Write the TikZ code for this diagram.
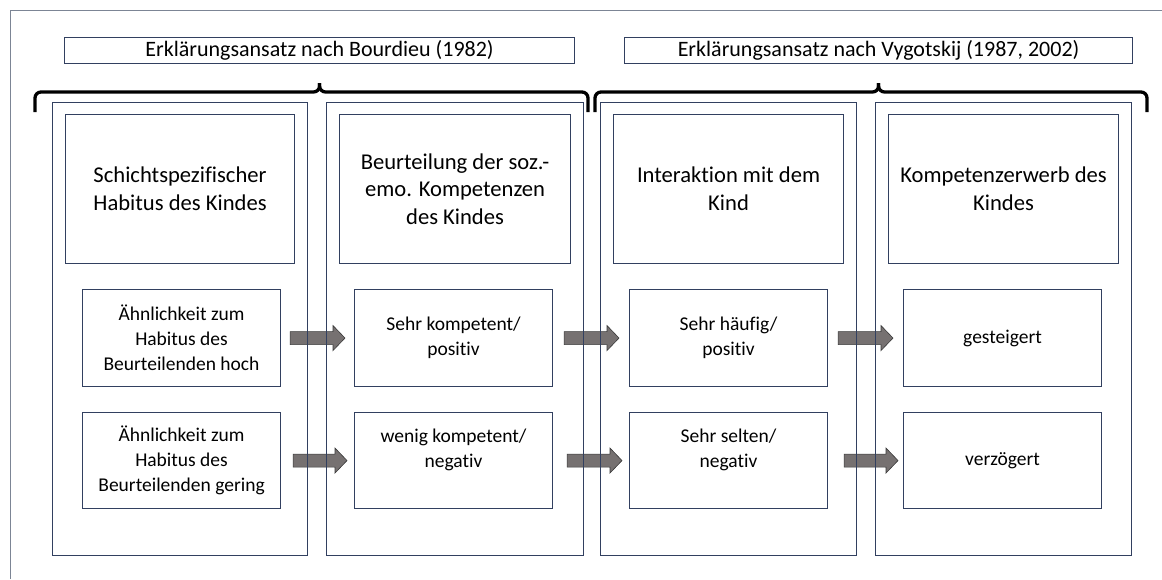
\documentclass[tikz,border=0pt]{standalone}
\usepackage{fontspec}
\setmainfont{Carlito}[Ligatures=NoCommon]
\usetikzlibrary{calc}
\definecolor{navy}{HTML}{324060}
\definecolor{arrowgray}{HTML}{767171}
\definecolor{arrowedge}{HTML}{3A3A3A}
\definecolor{framegray}{HTML}{7C8595}
\pgfdeclarelayer{bg}
\pgfsetlayers{bg,main}
\begin{document}
\begin{tikzpicture}[x=1pt,y=-1pt,
  boxbase/.style={draw=navy, line width=1.1pt, inner sep=0pt, anchor=north west, align=center, text=black},
  titlebox/.style={boxbase, minimum height=26pt, font=\fontsize{22}{26}\selectfont},
  colbox/.style={boxbase, minimum height=453pt},
  topbox/.style={boxbase, minimum height=149pt, font=\fontsize{22.6}{27.8}\selectfont},
  lowbox/.style={boxbase, minimum width=198pt, font=\fontsize{19.5}{25}\selectfont},
  bracepath/.style={draw=black, line width=3.3pt, rounded corners=6pt, line cap=butt},
  blockarrow/.style={draw=arrowedge, fill=arrowgray, line width=0.6pt, line join=miter,
    to path={let \p1=(\tikztostart), \p2=(\tikztotarget) in
      (\x1,\y1+6.5pt) -- (\x2-12pt,\y1+6.5pt) -- (\x2-12pt,\y1+12.5pt) -- (\x2,\y1)
      -- (\x2-12pt,\y1-12.5pt) -- (\x2-12pt,\y1-6.5pt) -- (\x1,\y1-6.5pt) -- cycle}}
]
\useasboundingbox (0,0) rectangle (1162,579);
% outer frame
\draw[framegray, line width=1.6pt] (10.5,579) -- (10.5,10.5) -- (1162,10.5);

% title boxes
\node[titlebox, minimum width=510pt] (t1) at (64,37) {Erklärungsansatz nach Bourdieu (1982)};
\node[titlebox, minimum width=508pt] (t2) at (624,37) {Erklärungsansatz nach Vygotskij (1987, 2002)};

% braces
\coordinate (b1l) at (35,112);
\coordinate (b1r) at (588,112);
\coordinate (b1t) at ($(t1.south)+(0,19)$);
\coordinate (b2l) at (595,112);
\coordinate (b2r) at (1147,112);
\coordinate (b2t) at ($(t2.south)+(0,19)$);
\draw[bracepath] (b1l) -- (b1l |- 0,92) -- (b1t |- 0,92) -- (b1t);
\draw[bracepath] (b1r) -- (b1r |- 0,92) -- (b1t |- 0,92) -- (b1t);
\draw[bracepath] (b2l) -- (b2l |- 0,92) -- (b2t |- 0,92) -- (b2t);
\draw[bracepath] (b2r) -- (b2r |- 0,92) -- (b2t |- 0,92) -- (b2t);

% columns
\node[colbox, minimum width=255pt] (c1) at (52,102) {};
\node[colbox, minimum width=257pt] (c2) at (326,102) {};
\node[colbox, minimum width=256pt] (c3) at (600,102) {};
\node[colbox, minimum width=256pt] (c4) at (875,102) {};

% top boxes
\node[topbox, minimum width=229pt] (h1) at (65,114) {Schichtspezifischer\\Habitus des Kindes};
\node[topbox, minimum width=231pt] (h2) at (339,114) {Beurteilung der soz.-\\emo. Kompetenzen\\des Kindes};
\node[topbox, minimum width=230pt] (h3) at (613,114) {Interaktion mit dem\\Kind};
\node[topbox, minimum width=230pt] (h4) at (888,114) {Kompetenzerwerb des\\Kindes};

% row 1
\node[lowbox, minimum height=97pt] (a1) at (82,289) {Ähnlichkeit zum\\Habitus des\\Beurteilenden hoch};
\node[lowbox, minimum height=97pt] (a2) at (354,289) {Sehr kompetent/\\positiv};
\node[lowbox, minimum height=97pt] (a3) at (629,289) {Sehr häufig/\\positiv};
\node[lowbox, minimum height=97pt] (a4) at (903,289) {gesteigert};

% row 2
\node[lowbox, minimum height=96pt] (r1) at (82,412) {Ähnlichkeit zum\\Habitus des\\Beurteilenden gering};
\node[lowbox, minimum height=96pt] (r2) at (354,412) {wenig kompetent/\\negativ\\\mbox{}};
\node[lowbox, minimum height=96pt] (r3) at (629,412) {Sehr selten/\\negativ\\\mbox{}};
\node[lowbox, minimum height=96pt] (r4) at (903,412) {verzögert};

% arrows
\begin{pgfonlayer}{bg}
\draw[blockarrow] ([xshift=9pt]a1.east) to ([xshift=-9pt]a2.west);
\draw[blockarrow] ([xshift=11pt]a2.east) to ([xshift=-10pt]a3.west);
\draw[blockarrow] ([xshift=10pt]a3.east) to ([xshift=-10pt]a4.west);
\draw[blockarrow] ([xshift=12pt]r1.east) to ([xshift=-7pt]r2.west);
\draw[blockarrow] ([xshift=14pt]r2.east) to ([xshift=-7pt]r3.west);
\draw[blockarrow] ([xshift=16pt]r3.east) to ([xshift=-5pt]r4.west);
\end{pgfonlayer}
\end{tikzpicture}
\end{document}
